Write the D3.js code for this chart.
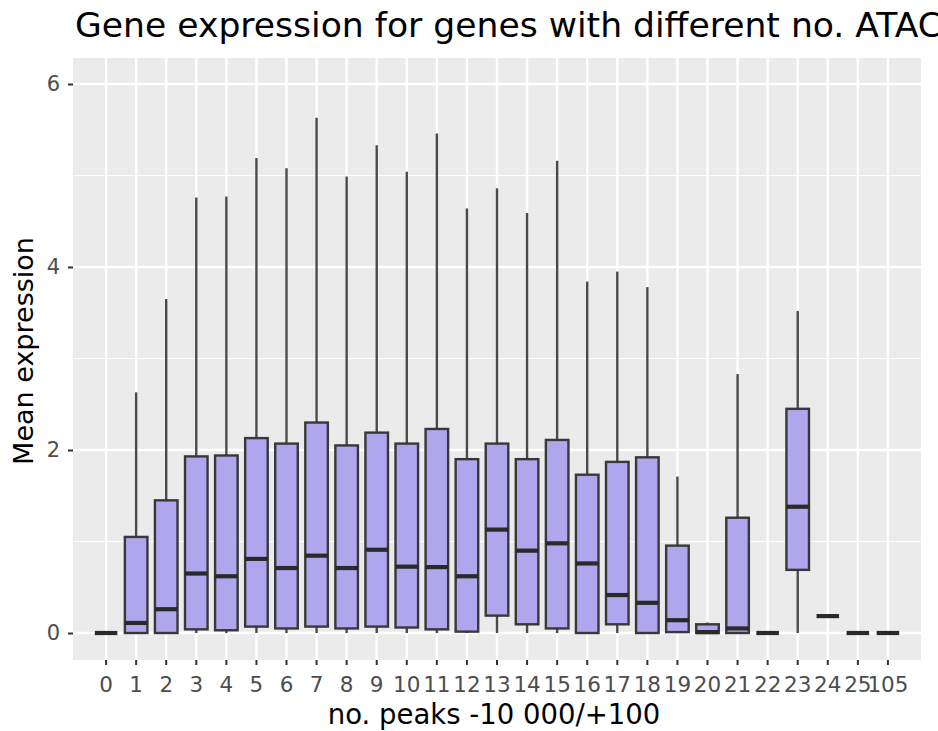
<!DOCTYPE html>
<html>
<head>
<meta charset="utf-8">
<script src="https://cdn.jsdelivr.net/npm/d3@7"></script>
<style>
  html, body { margin: 0; padding: 0; background: #ffffff; overflow: hidden; }
  svg { display: block; }
  text { font-family: "DejaVu Sans", sans-serif; }
</style>
</head>
<body>
<svg id="chart" width="938" height="731"></svg>
<script>
// ---------------- data ----------------
const categories = ["0","1","2","3","4","5","6","7","8","9","10","11","12","13","14","15","16","17","18","19","20","21","22","23","24","25","105"];
const whiskerLow  = [0, 0, 0, 0, 0, 0, 0, 0, 0, 0, 0, 0, 0, 0, 0, 0, 0, 0, 0, 0, 0, 0, 0, 0, 0.185, 0, 0];
const q1Values    = [0, 0, 0, 0.04, 0.03, 0.07, 0.05, 0.07, 0.05, 0.07, 0.06, 0.04, 0.015, 0.19, 0.095, 0.05, 0, 0.095, 0, 0.01, 0, 0, 0, 0.69, 0.185, 0, 0];
const medianValues= [0, 0.11, 0.26, 0.65, 0.62, 0.81, 0.71, 0.845, 0.71, 0.91, 0.725, 0.72, 0.62, 1.13, 0.90, 0.98, 0.76, 0.415, 0.33, 0.14, 0.01, 0.05, 0, 1.38, 0.185, 0, 0];
const q3Values    = [0, 1.05, 1.45, 1.93, 1.94, 2.13, 2.07, 2.30, 2.05, 2.19, 2.07, 2.23, 1.90, 2.07, 1.90, 2.11, 1.73, 1.87, 1.92, 0.955, 0.095, 1.26, 0, 2.45, 0.185, 0, 0];
const whiskerHigh = [0, 2.63, 3.65, 4.76, 4.77, 5.19, 5.08, 5.63, 4.99, 5.33, 5.04, 5.46, 4.64, 4.86, 4.59, 5.16, 3.84, 3.95, 3.78, 1.71, 0.115, 2.83, 0, 3.52, 0.185, 0, 0];
const yTicks = [0, 2, 4, 6];
const yMinorTicks = [1, 3, 5];
const yDomain = [-0.295, 6.284];

const titleText = "Gene expression for genes with different no. ATAC peaks";
const xTitle = "no. peaks -10 000/+100";
const yTitle = "Mean expression";

// ---------------- layout ----------------
const panel = { left: 73, right: 921, top: 58, bottom: 660 };
const svg = d3.select("#chart");

const x = d3.scaleBand()
  .domain(categories)
  .range([panel.left, panel.right])
  .paddingInner(0)
  .paddingOuter(0.6);
const y = d3.scaleLinear().domain(yDomain).range([panel.bottom, panel.top]);

const boxData = categories.map((c, i) => ({
  cat: c, lo: whiskerLow[i], q1: q1Values[i], med: medianValues[i], q3: q3Values[i], hi: whiskerHigh[i]
}));

// panel background
svg.append("rect")
  .attr("x", panel.left).attr("y", panel.top)
  .attr("width", panel.right - panel.left).attr("height", panel.bottom - panel.top)
  .attr("fill", "#EBEBEB");

const grid = svg.append("g");
grid.selectAll("line.minor").data(yMinorTicks).join("line")
  .attr("x1", panel.left).attr("x2", panel.right)
  .attr("y1", d => y(d)).attr("y2", d => y(d))
  .attr("stroke", "#ffffff").attr("stroke-width", 1.2);
grid.selectAll("line.majy").data(yTicks).join("line")
  .attr("x1", panel.left).attr("x2", panel.right)
  .attr("y1", d => y(d)).attr("y2", d => y(d))
  .attr("stroke", "#ffffff").attr("stroke-width", 2.4);
grid.selectAll("line.majx").data(categories).join("line")
  .attr("x1", d => x(d) + x.bandwidth() / 2).attr("x2", d => x(d) + x.bandwidth() / 2)
  .attr("y1", panel.top).attr("y2", panel.bottom)
  .attr("stroke", "#ffffff").attr("stroke-width", 2.4);

// ---------------- boxes ----------------
const boxW = x.bandwidth() * 0.75;
const g = svg.append("g");
const items = g.selectAll("g.box").data(boxData).join("g")
  .attr("transform", d => `translate(${x(d.cat) + x.bandwidth() / 2},0)`);

items.append("line")
  .attr("x1", 0).attr("x2", 0)
  .attr("y1", d => y(d.hi)).attr("y2", d => y(d.q3))
  .attr("stroke", "#4A4A4A").attr("stroke-width", 2.4);
items.append("line")
  .attr("x1", 0).attr("x2", 0)
  .attr("y1", d => y(d.q1)).attr("y2", d => y(d.lo))
  .attr("stroke", "#4A4A4A").attr("stroke-width", 2.4);
items.append("rect")
  .attr("x", -boxW / 2).attr("width", boxW)
  .attr("y", d => y(d.q3)).attr("height", d => Math.max(0, y(d.q1) - y(d.q3)))
  .attr("fill", "#AFA6EE")
  .attr("stroke", "#383838").attr("stroke-width", 2.4);
items.append("line")
  .attr("x1", -boxW / 2).attr("x2", boxW / 2)
  .attr("y1", d => y(d.med)).attr("y2", d => y(d.med))
  .attr("stroke", "#2A2A2A").attr("stroke-width", 4.2);

// ---------------- axes ----------------
const xAxis = d3.axisBottom(x).tickSize(5).tickPadding(11);
const xg = svg.append("g").attr("transform", `translate(0,${panel.bottom})`).call(xAxis);
xg.select(".domain").remove();
xg.selectAll(".tick line").attr("stroke", "#333333").attr("stroke-width", 2);
xg.selectAll(".tick text")
  .attr("fill", "#4D4D4D")
  .style("font-size", "21.5px")
  .style("font-family", "DejaVu Sans")
  .attr("dy", "0.74em");

const yAxis = d3.axisLeft(y).tickValues(yTicks).tickFormat(d3.format("d")).tickSize(5).tickPadding(8);
const yg = svg.append("g").attr("transform", `translate(${panel.left},0)`).call(yAxis);
yg.select(".domain").remove();
yg.selectAll(".tick line").attr("stroke", "#333333").attr("stroke-width", 2);
yg.selectAll(".tick text")
  .attr("fill", "#4D4D4D")
  .style("font-size", "21px")
  .style("font-family", "DejaVu Sans");

// ---------------- titles ----------------
svg.append("text")
  .attr("x", 75).attr("y", 37)
  .style("font-size", "34.6px")
  .attr("fill", "#000000")
  .text(titleText);

svg.append("text")
  .attr("x", (panel.left + panel.right) / 2 - 3).attr("y", 724)
  .attr("text-anchor", "middle")
  .style("font-size", "27.5px")
  .attr("fill", "#000000")
  .text(xTitle);

svg.append("text")
  .attr("transform", `translate(33,${(panel.top + panel.bottom) / 2 - 8}) rotate(-90)`)
  .attr("text-anchor", "middle")
  .style("font-size", "27px")
  .attr("fill", "#000000")
  .text(yTitle);
</script>
</body>
</html>
